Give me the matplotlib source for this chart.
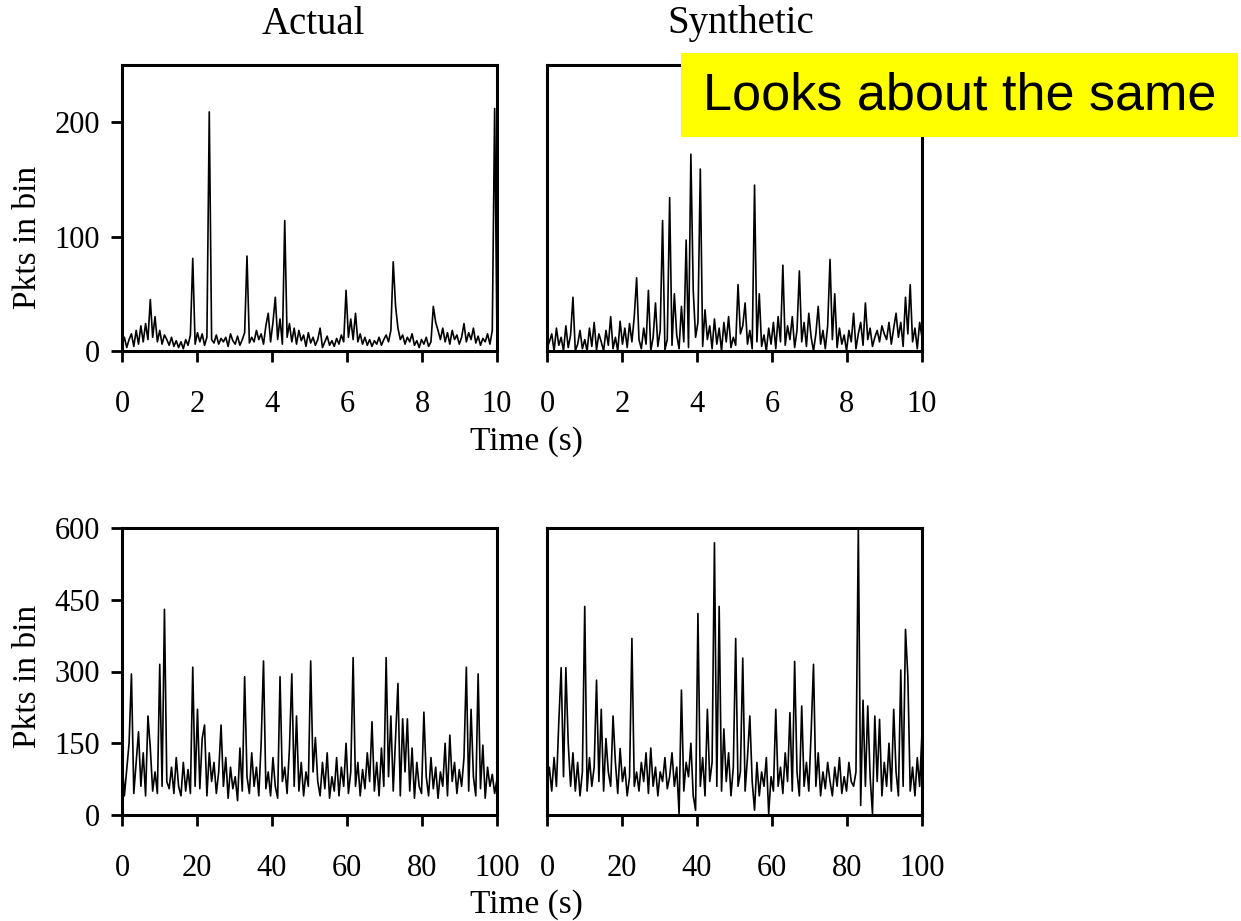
import numpy as np
import matplotlib
matplotlib.use("Agg")
import matplotlib.pyplot as plt
from matplotlib.patches import Rectangle

plt.rcParams['font.family'] = ['Liberation Serif', 'DejaVu Serif']

# packets per bin, 10 s trace (top row)
actual_10s = [
    5, 12, 3, 10, 15, 4, 18, 6, 22, 8, 24, 10, 45, 12, 30, 8, 18, 6, 14, 10,
    5, 12, 4, 9, 3, 8, 2, 10, 5, 14, 81, 6, 16, 8, 15, 5, 12, 209, 10, 7,
    14, 6, 11, 8, 12, 4, 15, 9, 6, 13, 5, 10, 16, 83, 7, 12, 8, 18, 10, 15,
    6, 22, 33, 8, 25, 47, 10, 28, 6, 114, 12, 24, 8, 20, 6, 18, 9, 14, 4, 16,
    7, 12, 5, 10, 20, 3, 8, 13, 5, 9, 4, 11, 6, 14, 8, 53, 12, 28, 10, 33,
    8, 15, 6, 12, 5, 10, 4, 9, 6, 12, 5, 10, 14, 8, 18, 78, 39, 20, 10, 14,
    6, 12, 8, 15, 5, 9, 3, 10, 6, 12, 4, 8, 39, 25, 18, 10, 20, 8, 16, 6,
    18, 10, 14, 6, 12, 24, 8, 16, 10, 20, 7, 13, 5, 11, 8, 15, 6, 18, 212, 10,
]
synthetic_10s = [
    2, 8, 15, 0, 20, 5, 12, 0, 22, 3, 14, 47, 0, 6, 18, 2, 10, 0, 20, 4,
    25, 1, 15, 8, 0, 18, 5, 30, 2, 12, 0, 26, 6, 20, 3, 24, 8, 30, 64, 10,
    2, 20, 6, 53, 0, 12, 42, 4, 18, 114, 1, 10, 134, 5, 50, 14, 2, 39, 8, 97,
    3, 172, 53, 12, 25, 159, 4, 36, 10, 22, 2, 28, 6, 20, 0, 25, 8, 30, 3, 12,
    5, 58, 15, 22, 42, 6, 18, 2, 145, 8, 50, 4, 14, 0, 20, 6, 25, 2, 30, 8,
    75, 5, 22, 10, 30, 3, 18, 70, 8, 25, 4, 33, 12, 0, 15, 39, 6, 18, 2, 22,
    80, 10, 50, 3, 20, 6, 14, 0, 18, 8, 33, 2, 15, 25, 5, 42, 10, 20, 4, 12,
    18, 8, 22, 15, 10, 25, 6, 20, 33, 12, 25, 4, 47, 15, 58, 8, 20, 2, 25, 12,
]

# packets per bin, 100 s trace (bottom row)
actual_100s = [
    120, 40, 95, 150, 295, 45, 110, 174, 60, 130, 40, 207, 140, 50, 90, 45, 315, 60, 430, 70,
    55, 100, 45, 120, 60, 40, 110, 50, 95, 45, 309, 60, 221, 55, 160, 188, 40, 130, 70, 110,
    45, 90, 188, 60, 120, 35, 100, 55, 80, 30, 140, 50, 289, 80, 45, 130, 60, 100, 40, 150,
    322, 55, 90, 40, 120, 60, 35, 289, 70, 100, 45, 140, 295, 60, 207, 50, 110, 40, 90, 60,
    322, 90, 162, 70, 40, 110, 55, 130, 35, 80, 50, 120, 40, 100, 60, 150, 45, 90, 329, 60,
    110, 40, 95, 55, 130, 70, 195, 50, 110, 40, 140, 60, 329, 80, 207, 50, 160, 275, 40, 201,
    90, 201, 50, 140, 35, 110, 60, 45, 215, 80, 40, 120, 55, 100, 35, 90, 60, 150, 40, 167,
    70, 110, 45, 95, 60, 120, 309, 50, 221, 80, 40, 295, 55, 146, 35, 100, 60, 85, 45, 75,
]
synthetic_100s = [
    60, 100, 50, 120, 60, 194, 308, 80, 308, 150, 60, 130, 50, 110, 40, 90, 436, 50, 120, 60,
    100, 282, 70, 221, 50, 160, 90, 60, 207, 110, 45, 139, 70, 100, 40, 80, 369, 60, 90, 50,
    110, 70, 130, 45, 140, 60, 100, 40, 90, 70, 120, 55, 80, 130, 60, 100, 3, 261, 50, 110,
    80, 150, 40, 10, 421, 60, 120, 40, 221, 70, 110, 569, 60, 436, 50, 180, 70, 130, 40, 100,
    369, 60, 90, 328, 50, 120, 207, 70, 10, 110, 40, 90, 60, 120, 3, 80, 50, 221, 60, 100,
    45, 130, 70, 214, 50, 321, 90, 40, 228, 60, 110, 50, 173, 315, 60, 130, 40, 90, 55, 110,
    70, 40, 100, 60, 120, 45, 80, 50, 110, 70, 60, 90, 600, 20, 240, 60, 228, 80, 3, 207,
    70, 200, 40, 110, 60, 150, 50, 221, 90, 40, 303, 60, 388, 289, 50, 100, 40, 120, 60, 173,
]

x_ticks_10s = [0, 2, 4, 6, 8, 10]
x_ticks_100s = [0, 20, 40, 60, 80, 100]
y_ticks_top = [0, 100, 200]
y_ticks_bottom = [0, 150, 300, 450, 600]


def trace_axes(fig, rect, values, tmax, ymax, xticks, yticks, show_yticks):
    ax = fig.add_axes(rect)
    t = np.linspace(0, tmax, len(values))
    ax.plot(t, values, color='black', lw=1.2)
    ax.set_xlim(0, tmax)
    ax.set_ylim(0, ymax)
    ax.set_xticks(xticks)
    ax.set_yticks(yticks)
    if not show_yticks:
        ax.set_yticks([])
    for side in ax.spines.values():
        side.set_linewidth(2.2)
    ax.tick_params(axis='x', direction='out', length=8, width=2, pad=20, labelsize=22)
    ax.tick_params(axis='y', direction='out', length=8, width=2, pad=8, labelsize=22)
    return ax


fig = plt.figure(figsize=(12.41, 9.21), dpi=100)

W, H = 1241.0, 921.0
aw = 375 / W
top_b, top_h = (H - 351) / H, 286 / H
bot_b, bot_h = (H - 815) / H, 287 / H
left_l, right_l = 122 / W, 547 / W

trace_axes(fig, [left_l, top_b, aw, top_h], actual_10s, 10, 250,
           x_ticks_10s, y_ticks_top, True)
trace_axes(fig, [right_l, top_b, aw, top_h], synthetic_10s, 10, 250,
           x_ticks_10s, y_ticks_top, False)
trace_axes(fig, [left_l, bot_b, aw, bot_h], actual_100s, 100, 600,
           x_ticks_100s, y_ticks_bottom, True)
trace_axes(fig, [right_l, bot_b, aw, bot_h], synthetic_100s, 100, 600,
           x_ticks_100s, y_ticks_bottom, False)

# column headings and shared labels
fig.text(313 / W, 1 - 24 / H, 'Actual', ha='center', va='center', fontsize=28)
fig.text(741 / W, 1 - 24 / H, 'Synthetic', ha='center', va='center', fontsize=28)
fig.text(526 / W, 1 - 442 / H, 'Time (s)', ha='center', va='center', fontsize=24)
fig.text(526 / W, 1 - 905 / H, 'Time (s)', ha='center', va='center', fontsize=24)
fig.text(28 / W, 1 - 237 / H, 'Pkts in bin', ha='center', va='center',
         rotation=90, fontsize=24)
fig.text(28 / W, 1 - 676 / H, 'Pkts in bin', ha='center', va='center',
         rotation=90, fontsize=24)

# yellow callout
fig.patches.append(Rectangle((681 / W, 1 - 137 / H), 557 / W, 84 / H,
                             transform=fig.transFigure, facecolor='#ffff00',
                             edgecolor='none', zorder=5))
fig.text(960 / W, 1 - 96 / H, 'Looks about the same', ha='center', va='center',
         fontsize=37.5, family=['Liberation Sans', 'DejaVu Sans'], zorder=6)

fig.savefig('out.png', dpi=100)
